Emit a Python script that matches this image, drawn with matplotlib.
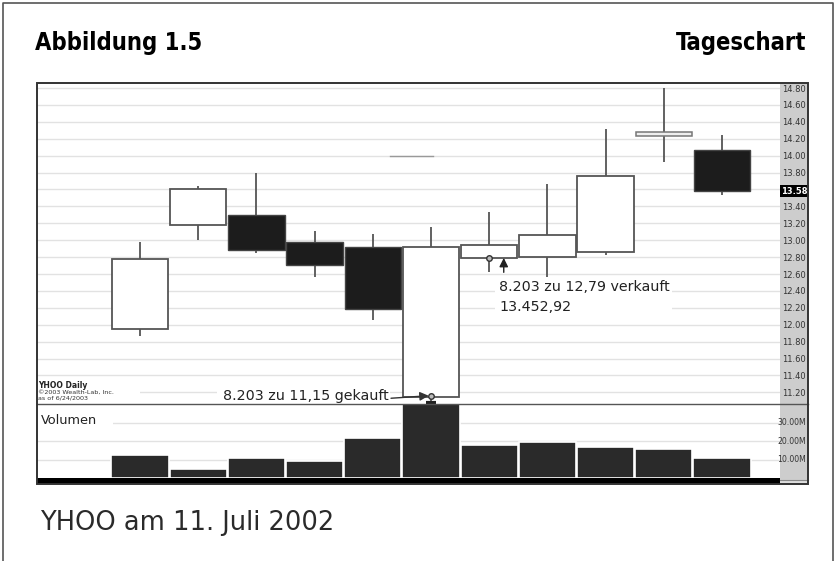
import numpy as np
import matplotlib
matplotlib.use("Agg")
import matplotlib.pyplot as plt
from matplotlib.patches import Rectangle
from matplotlib.lines import Line2D
from matplotlib.transforms import blended_transform_factory
from matplotlib import font_manager
from matplotlib.font_manager import FontProperties

# ---------------- data ----------------
opens  = [11.95, 13.18, 13.30, 12.98, 12.92, 11.15, 12.79, 12.80, 12.86, 14.24, 14.07]
highs  = [12.98, 13.64, 13.80, 13.11, 13.07, 13.16, 13.33, 13.67, 14.32, 14.80, 14.25]
lows   = [11.87, 13.00, 12.85, 12.56, 12.06, 11.07, 12.62, 12.57, 12.82, 13.92, 13.53]
closes = [12.78, 13.61, 12.89, 12.71, 12.19, 12.92, 12.94, 13.06, 13.76, 14.26, 13.58]
volumes_m = [12.6, 4.7, 10.7, 9.5, 21.7, 40.3, 17.7, 19.7, 17.1, 16.0, 10.9]
price_ticks = [11.2, 11.4, 11.6, 11.8, 12.0, 12.2, 12.4, 12.6, 12.8, 13.0, 13.2,
               13.4, 13.6, 13.8, 14.0, 14.2, 14.4, 14.6, 14.8]
vol_ticks_m = [10, 20, 30]
last_price = 13.58
buy_idx, buy_price = 5, 11.15
sell_idx, sell_price = 6, 12.79

W, H = 836, 561
fig = plt.figure(figsize=(W / 100, H / 100), dpi=100)

def fbox(x0, y0, x1, y1):
    return [x0 / W, 1 - y1 / H, (x1 - x0) / W, (y1 - y0) / H]

def frect(x0, y0, x1, y1, **kw):
    r = Rectangle((x0 / W, 1 - y1 / H), (x1 - x0) / W, (y1 - y0) / H,
                  transform=fig.transFigure, **kw)
    fig.patches.append(r)
    return r

def fline(xs, ys, **kw):
    l = Line2D([x / W for x in xs], [1 - y / H for y in ys],
               transform=fig.transFigure, **kw)
    fig.lines.append(l)

# ---- header font: look for an installed condensed bold face ----
def weight_num(w):
    if isinstance(w, (int, float)):
        return w
    return {"bold": 700, "heavy": 800, "black": 900, "semibold": 600,
            "demibold": 600, "extra bold": 800, "ultrabold": 800}.get(str(w).lower(), 400)

pref = ["Liberation Sans Narrow", "Noto Sans", "Roboto", "DejaVu Sans", "Open Sans", "Lato", "Inter"]
cands = [f for f in font_manager.fontManager.ttflist
         if f.stretch in ("condensed", "semi-condensed", "extra-condensed")
         and 600 <= weight_num(f.weight) <= 800 and f.style == "normal"]
if cands:
    cands.sort(key=lambda f: (pref.index(f.name) if f.name in pref else 99,
                              abs(weight_num(f.weight) - 700)))
    head_fp = FontProperties(fname=cands[0].fname)
    head_size = 17
else:
    head_fp = FontProperties(family="Liberation Sans", weight="bold")
    head_size = 16

# outer border
fline([3, 3, 833, 833], [561, 3, 3, 561], color="#555555", lw=1.2)

# headers
t1 = fig.text(35 / W, 1 - 43 / H, "Abbildung 1.5", ha="left", va="center",
              fontproperties=head_fp, color="black")
t1.set_fontsize(head_size)
t2 = fig.text(806 / W, 1 - 43 / H, "Tageschart", ha="right", va="center",
              fontproperties=head_fp, color="black")
t2.set_fontsize(head_size)
fig.text(40 / W, 1 - 523 / H, "YHOO am 11. Juli 2002", ha="left", va="center",
         fontsize=18.5, color="#2a2a2a", family="DejaVu Sans")

# right grey column (behind the axes' tick labels)
frect(780, 83, 808, 483, facecolor="#cdcdcd", edgecolor="none", zorder=-1)

# ---------------- price panel ----------------
slot = 58.2
x = np.arange(len(opens))
xlim = ((37 - 140) / slot, (780 - 140) / slot)

axp = fig.add_axes(fbox(37, 83, 780, 404))
axp.set_xlim(*xlim)
axp.set_ylim(11.062, 14.860)
axp.set_axisbelow(True)
axp.set_yticks(price_ticks)
axp.yaxis.tick_right()
axp.set_yticklabels(["" if abs(t - 13.6) < 1e-6 else f"{t:.2f}" for t in price_ticks])
axp.tick_params(axis="y", length=0, pad=1.5, labelsize=6, labelcolor="#333333")
axp.set_xticks([])
axp.grid(axis="y", color="#e2e2e2", lw=1)
for s in axp.spines.values():
    s.set_visible(False)

# darker fragment of the 14.00 gridline
axp.plot([(390 - 140) / slot, (433 - 140) / slot], [14.0, 14.0], color="#999999", lw=1, zorder=0.8)

o = np.array(opens); c = np.array(closes)
bull = c >= o
axp.vlines(x, lows, highs, color="#555555", lw=1.3, zorder=2)
body = np.abs(c - o)
doji = bull & (body < 0.05)
norm = bull & ~doji
axp.bar(x[norm], body[norm], bottom=np.minimum(o, c)[norm],
        width=0.97, facecolor="white", edgecolor="#555555", lw=1.3, zorder=3)
axp.bar(x[doji], np.full(doji.sum(), 0.045), bottom=np.minimum(o, c)[doji] - 0.005,
        width=0.97, facecolor="#eeeeee", edgecolor="#777777", lw=1.1, zorder=3)
axp.bar(x[~bull], body[~bull], bottom=np.minimum(o, c)[~bull],
        width=0.97, facecolor="#1c1c1c", edgecolor="#444444", lw=1.0, zorder=3)

# last price box
tr = blended_transform_factory(axp.transAxes, axp.transData)
axp.text(1.0 + 1.5 / 743, last_price, f"{last_price:.2f}", transform=tr, ha="left", va="center",
         fontsize=6, color="white", fontweight="bold",
         bbox=dict(facecolor="black", edgecolor="none", pad=0.9), zorder=10, clip_on=False)

# watermark text block
axp.add_patch(Rectangle((xlim[0], 11.062), (140 - 37) / slot, 0.30, facecolor="white",
                        edgecolor="none", zorder=1))
axp.text(xlim[0] + 0.02, 11.280, "YHOO Daily", fontsize=5.5, fontweight="bold",
         color="#222222", va="center", ha="left", zorder=4)
axp.text(xlim[0] + 0.02, 11.196, "\u00a92003 Wealth-Lab, Inc.", fontsize=4.6,
         color="#333333", va="center", ha="left", zorder=4)
axp.text(xlim[0] + 0.02, 11.130, "as of 6/24/2003", fontsize=4.6,
         color="#333333", va="center", ha="left", zorder=4)

# buy annotation
axp.add_patch(Rectangle(((217 - 140) / slot, 11.062), (390 - 217) / slot, 0.21,
                        facecolor="white", edgecolor="none", zorder=1))
axp.text((223 - 140) / slot, 11.160, "8.203 zu 11,15 gekauft", fontsize=10.3,
         color="#222222", va="center", ha="left", zorder=4)
axp.annotate("", xy=(buy_idx - 0.04, buy_price + 0.01), xytext=((391 - 140) / slot, buy_price - 0.02),
             arrowprops=dict(arrowstyle="-|>", color="#333333", lw=1.0, mutation_scale=13,
                             shrinkA=0, shrinkB=0), zorder=5)
axp.plot(buy_idx, buy_price + 0.005, "o", ms=4, mfc="#bbbbbb", mec="#333333", mew=1, zorder=6)
axp.plot(buy_idx, 11.068, marker="_", ms=7, mew=3, color="#222222", zorder=6, clip_on=False)

# sell annotation
axp.add_patch(Rectangle(((495 - 140) / slot, 12.10), (672 - 495) / slot, 0.466,
                        facecolor="white", edgecolor="none", zorder=1))
axp.text((499 - 140) / slot, 12.446, "8.203 zu 12,79 verkauft", fontsize=10.3,
         color="#222222", va="center", ha="left", zorder=4)
axp.text((499 - 140) / slot, 12.215, "13.452,92", fontsize=10.3,
         color="#222222", va="center", ha="left", zorder=4)
axp.annotate("", xy=(sell_idx + 0.25, sell_price), xytext=(sell_idx + 0.25, 12.62),
             arrowprops=dict(arrowstyle="-|>", color="#222222", lw=1.0, mutation_scale=13,
                             shrinkA=0, shrinkB=0), zorder=5)
axp.plot(sell_idx, sell_price, "o", ms=4, mfc="#bbbbbb", mec="#333333", mew=1, zorder=6)

# ---------------- volume panel ----------------
axv = fig.add_axes(fbox(37, 404, 780, 478))
axv.set_xlim(*xlim)
axv.set_ylim(0, 40.3)
axv.set_axisbelow(True)
axv.set_yticks(vol_ticks_m)
axv.set_yticklabels([])
axv.tick_params(axis="y", length=0)
axv.set_xticks([])
axv.grid(axis="y", color="#e2e2e2", lw=1)
for s in axv.spines.values():
    s.set_visible(False)
axv.bar(x, volumes_m, width=0.985, facecolor="#2a2a2a", edgecolor="white", lw=1.2, zorder=3)
trv = blended_transform_factory(fig.transFigure, axv.transData)
for t in vol_ticks_m:
    axv.text(806 / W, t, f"{t:.2f}M", transform=trv, ha="right", va="center",
             fontsize=5.6, color="#333333", clip_on=False, zorder=10)
axv.add_patch(Rectangle((xlim[0], 26.0), (113 - 37) / slot, 10.5, facecolor="white",
                        edgecolor="none", zorder=1))
axv.text((41 - 140) / slot, 31.4, "Volumen", fontsize=9.3, color="#222222",
         va="center", ha="left", zorder=4)

# bottom black bar, separators and frame
frect(37, 478, 780, 483.5, facecolor="black", edgecolor="none", zorder=5)
frect(780, 480, 808, 483.5, facecolor="#dddddd", edgecolor="none", zorder=5)
fline([37, 808], [404, 404], color="#555555", lw=1.0, zorder=6)
fline([780, 808], [480, 480], color="#888888", lw=0.8, zorder=6)
frect(37, 83, 808, 483.5, facecolor="none", edgecolor="#333333", lw=1.4, zorder=7)

fig.savefig("out.png", dpi=100)
